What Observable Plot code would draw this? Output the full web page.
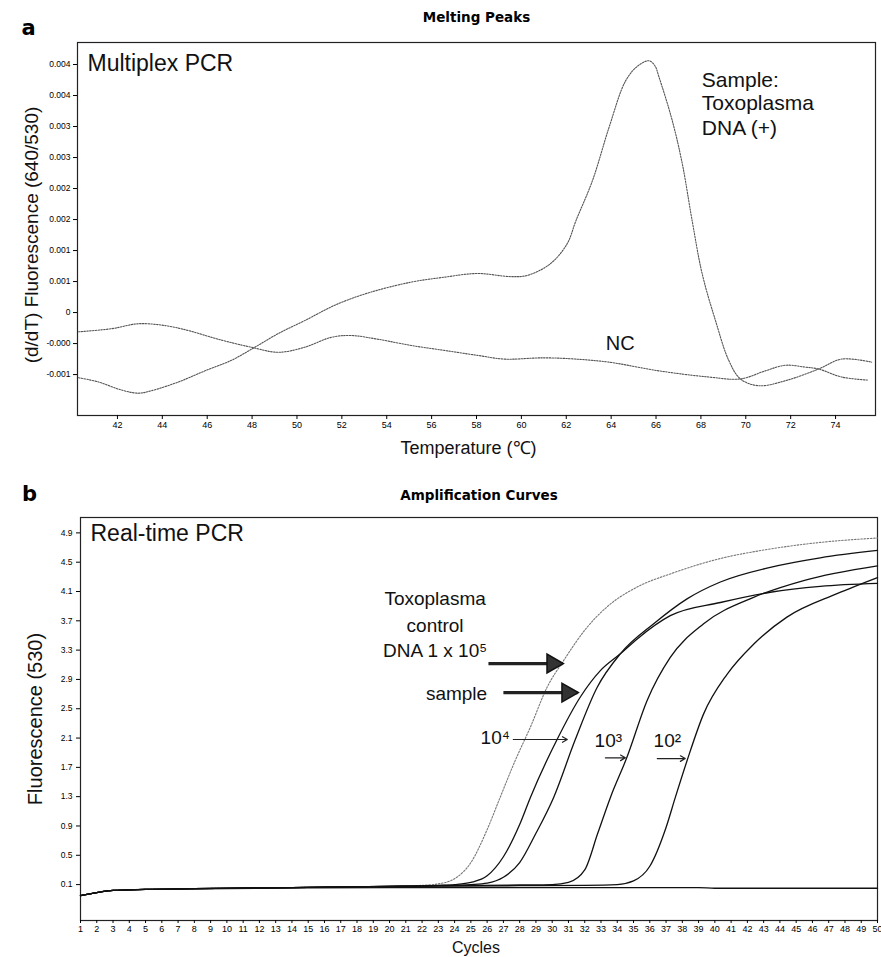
<!DOCTYPE html>
<html><head><meta charset="utf-8">
<script src="https://cdn.jsdelivr.net/npm/d3@7"></script>
<script src="https://cdn.jsdelivr.net/npm/@observablehq/plot@0.6"></script>
<style>body{margin:0;background:#fff} #chart svg{display:block}</style>
</head><body><div id="chart"></div>
<script>
// ---------- Panel a: Melting Peaks ----------
const titleA = "Melting Peaks";
const xTicksA = [42,44,46,48,50,52,54,56,58,60,62,64,66,68,70,72,74];
const yTicksA = [0.004,0.0035,0.003,0.0025,0.002,0.0015,0.001,0.0005,0,-0.0005,-0.001];
const yTickLabelsA = ["0.004","0.004","0.003","0.003","0.002","0.002","0.001","0.001","0","-0.000","-0.001"];

const tempSample = [40.27,41.16,42.19,42.93,43.52,44.71,45.9,47.08,48.12,49.16,50.34,51.82,53.3,55.08,56.56,58.04,59.52,60.27,61.3,62.04,62.43,63.17,63.91,64.65,65.2,65.69,65.95,66.13,66.72,67.17,67.61,68.06,68.65,69.24,69.76,70.58,71.76,73.24,74.28,75.61];
const valSample  = [-0.00105,-0.00112,-0.00125,-0.0013,-0.00126,-0.00112,-0.00094,-0.00077,-0.00056,-0.00034,-0.00013,0.00014,0.00033,0.00049,0.00057,0.00063,0.00058,0.0006,0.00079,0.00111,0.00148,0.00213,0.00299,0.00374,0.00398,0.00406,0.00398,0.0038,0.0031,0.0024,0.00148,0.00062,-0.00013,-0.00077,-0.00107,-0.00118,-0.0011,-0.00091,-0.00075,-0.0008];
const tempNC = [40.27,41.75,42.93,44.12,45.16,46.49,47.97,49.16,50.34,51.52,52.41,53.6,55.08,56.56,58.04,59.23,61.0,62.41,63.91,66.13,68.36,69.76,70.87,71.76,72.65,73.24,74.28,75.47];
const valNC  = [-0.00031,-0.00026,-0.00018,-0.00021,-0.00029,-0.00043,-0.00056,-0.00064,-0.00056,-0.0004,-0.00037,-0.00043,-0.00053,-0.00061,-0.00069,-0.00075,-0.00073,-0.00075,-0.0008,-0.00094,-0.00104,-0.00107,-0.00094,-0.00085,-0.00088,-0.00091,-0.00104,-0.00109];

// annotation texts of panel a (left-aligned block and centred NC label)
const sampleLinesA = ["Sample:","Toxoplasma","DNA (+)"];
const sampleXA = [68.04,68.04,68.04];
const sampleYA = [0.00374,0.00337,0.00298];
const ncLabelA = ["NC"], ncXA = [64.4], ncYA = [-0.0005];

// ---------- Panel b: Amplification Curves ----------
const titleB = "Amplification Curves";
const xTicksB = d3.range(1, 51);
const yTicksB = [0.1,0.5,0.9,1.3,1.7,2.1,2.5,2.9,3.3,3.7,4.1,4.5,4.9];

const cycCtrl = [1,2,3,5,8,12,16,20,22,23,24,25,26,26.8,27.7,28.66,29.68,30.71,32.14,33.37,35.21,37.26,40.34,43.41,46.48,50];
const valCtrl = [-0.05,-0.01,0.02,0.035,0.045,0.055,0.065,0.075,0.09,0.11,0.18,0.4,0.85,1.29,1.78,2.25,2.79,3.16,3.61,3.89,4.16,4.34,4.55,4.68,4.77,4.83];
const cycSample = [1,2,3,5,8,12,16,20,23,24,25,26,27,28,28.66,30.3,31.73,32.96,34.19,35.21,37.26,40.34,43.41,46.48,50];
const valSampleB = [-0.05,-0.01,0.02,0.035,0.045,0.055,0.065,0.075,0.09,0.1,0.13,0.22,0.48,0.92,1.29,2.08,2.66,3.02,3.25,3.45,3.77,3.95,4.09,4.17,4.21];
const cycE4 = [1,2,3,5,8,12,16,20,23,25,26,27,28,29,30.09,31.42,32.76,34.19,36.24,38.29,40.34,43.41,46.48,50];
const valE4 = [-0.05,-0.01,0.02,0.035,0.045,0.055,0.065,0.075,0.085,0.1,0.12,0.2,0.4,0.8,1.29,2.08,2.79,3.25,3.66,4.0,4.23,4.43,4.56,4.66];
const cycE3 = [1,2,3,5,8,12,16,20,24,28,30,31,32,32.8,33.58,34.6,35.83,37.26,39.31,42.38,45.46,50];
const valE3 = [-0.05,-0.01,0.02,0.035,0.045,0.055,0.065,0.075,0.085,0.095,0.1,0.13,0.3,0.8,1.29,1.84,2.61,3.2,3.66,4.02,4.25,4.45];
const cycE2 = [1,2,3,5,8,12,16,20,24,28,32,34,35,36,37,37.57,38.29,39.31,40.75,42.38,44.43,47.51,50];
const valE2 = [-0.05,-0.01,0.02,0.035,0.045,0.055,0.065,0.075,0.08,0.085,0.09,0.1,0.15,0.35,0.88,1.29,1.79,2.43,2.97,3.38,3.75,4.07,4.29];
const cycNCb = [1,2,3,5,10,15,20,25,30,35,39,40,45,50];
const valNCb = [-0.05,-0.01,0.02,0.035,0.045,0.055,0.06,0.06,0.06,0.06,0.06,0.05,0.05,0.05];

// annotation texts of panel b
const ctrlLinesB = ["Toxoplasma","control","DNA 1 x 10⁵"];
const ctrlXB = [22.8,22.8,22.8], ctrlYB = [4.0,3.635,3.294];
const sampleLabelB = ["sample"], sampleXB = [26.0], sampleYB = [2.707];
const dilLabelsB = ["10⁴","10³","10²"], dilXB = [26.5,33.45,37.08], dilYB = [2.107,2.06,2.06];

// thick arrows (control 10^5, sample)
const thickX1 = [26.08,27.0], thickX2 = [30.63,31.55], thickY = [3.117,2.72];
// thin arrows (10^4, 10^3, 10^2)
const thinX1 = [27.61,33.27,36.46], thinX2 = [30.93,34.5,38.18], thinY = [2.08,1.83,1.82];

const font = "'Liberation Sans', Arial, sans-serif";
const rows = (xs, ys, s) => xs.map((x, i) => ({x, y: ys[i], s}));

const melt = [...rows(tempSample, valSample, "sample"), ...rows(tempNC, valNC, "NC")];
const blackCurves = [...rows(cycSample, valSampleB, "sample"), ...rows(cycE4, valE4, "1e4"),
  ...rows(cycE3, valE3, "1e3"), ...rows(cycE2, valE2, "1e2"), ...rows(cycNCb, valNCb, "NC")];
const ctrlCurve = rows(cycCtrl, valCtrl, "1e5");

const plotA = Plot.plot({
  width: 881, height: 460, marginTop: 42, marginBottom: 45, marginLeft: 77, marginRight: 6,
  style: {fontFamily: font, fontSize: "9px", background: "white", color: "black", overflow: "visible"},
  x: {domain: [40.22, 75.78]},
  y: {domain: [-0.00166, 0.004355]},
  marks: [
    Plot.frame({stroke: "#222", strokeWidth: 1.2}),
    Plot.axisX({ticks: xTicksA, tickSize: 4, tickPadding: 2, label: null, fontSize: 9}),
    Plot.axisY({ticks: yTicksA, tickFormat: d => yTickLabelsA[yTicksA.indexOf(d)], tickSize: 4, tickPadding: 3, label: null, fontSize: 8.5}),
    Plot.line(melt, {x: "x", y: "y", z: "s", stroke: "#555", strokeWidth: 1.1, strokeDasharray: "1.5 1.3", curve: "catmull-rom"}),
    Plot.text(sampleLinesA, {x: sampleXA, y: sampleYA, text: d => d, textAnchor: "start", fontSize: 21, fill: "#111"}),
    Plot.text(ncLabelA, {x: ncXA, y: ncYA, text: d => d, textAnchor: "middle", fontSize: 20, fill: "#111"}),
    Plot.text(["Multiplex PCR"], {frameAnchor: "top-left", dx: 10, dy: 21, textAnchor: "start", lineAnchor: "middle", fontSize: 23, fill: "#111"}),
    Plot.text([titleA], {frameAnchor: "top", dy: -25, textAnchor: "middle", lineAnchor: "middle", fontSize: 13.5, fontWeight: 900, fontFamily: "DejaVu Sans"}),
    Plot.text(["a"], {frameAnchor: "top-left", dx: -49, dy: -14, textAnchor: "middle", lineAnchor: "middle", fontSize: 21, fontWeight: "bold", fontFamily: "DejaVu Sans"}),
    Plot.text(["Temperature (℃)"], {frameAnchor: "bottom", dx: -8, dy: 33, textAnchor: "middle", lineAnchor: "middle", fontSize: 18, fill: "#111"}),
    Plot.text(["(d/dT) Fluorescence (640/530)"], {frameAnchor: "left", dx: -46, dy: 6, rotate: -90, textAnchor: "middle", lineAnchor: "middle", fontSize: 19, fill: "#111"})
  ]
});

const plotB = Plot.plot({
  width: 881, height: 497, marginTop: 57, marginBottom: 37, marginLeft: 80, marginRight: 4,
  style: {fontFamily: font, fontSize: "9px", background: "white", color: "black", overflow: "visible"},
  x: {domain: [1, 50]},
  y: {domain: [-0.39, 5.11]},
  marks: [
    Plot.frame({stroke: "#222", strokeWidth: 1.2}),
    Plot.axisX({ticks: xTicksB, tickSize: 3, tickPadding: 2, label: null, fontSize: 9}),
    Plot.axisY({ticks: yTicksB, tickFormat: d3.format(".1f"), tickSize: 4, tickPadding: 4, label: null, fontSize: 8.5}),
    Plot.line(ctrlCurve, {x: "x", y: "y", stroke: "#777", strokeWidth: 1.1, strokeDasharray: "1.6 1.6", curve: "monotone-x"}),
    Plot.line(blackCurves, {x: "x", y: "y", z: "s", stroke: "#111", strokeWidth: 1.3, curve: "monotone-x"}),
    Plot.link(thickX1, {x1: d => d, x2: (d, i) => thickX2[i], y1: (d, i) => thickY[i], y2: (d, i) => thickY[i], stroke: "#222", strokeWidth: 3.2}),
    Plot.dot(thickX2, {x: d => d, y: (d, i) => thickY[i], symbol: "triangle", r: 7, rotate: 90, fill: "#333", stroke: "#111", dx: -10}),
    Plot.arrow(thinX1, {x1: d => d, x2: (d, i) => thinX2[i], y1: (d, i) => thinY[i], y2: (d, i) => thinY[i], stroke: "#222", strokeWidth: 1.2, headLength: 7}),
    Plot.text(ctrlLinesB, {x: ctrlXB, y: ctrlYB, text: d => d, textAnchor: "middle", fontSize: 19, fill: "#111"}),
    Plot.text(sampleLabelB, {x: sampleXB, y: sampleYB, text: d => d, textAnchor: "end", fontSize: 19, fill: "#111"}),
    Plot.text(dilLabelsB, {x: dilXB, y: dilYB, text: d => d, textAnchor: "middle", fontSize: 19, fill: "#111"}),
    Plot.text(["Real-time PCR"], {frameAnchor: "top-left", dx: 10, dy: 16, textAnchor: "start", lineAnchor: "middle", fontSize: 23, fill: "#111"}),
    Plot.text([titleB], {frameAnchor: "top", dy: -22, textAnchor: "middle", lineAnchor: "middle", fontSize: 13.5, fontWeight: 900, fontFamily: "DejaVu Sans"}),
    Plot.text(["b"], {frameAnchor: "top-left", dx: -51, dy: -23, textAnchor: "middle", lineAnchor: "middle", fontSize: 21, fontWeight: "bold", fontFamily: "DejaVu Sans"}),
    Plot.text(["Cycles"], {frameAnchor: "bottom", dx: -3, dy: 27, textAnchor: "middle", lineAnchor: "middle", fontSize: 16, fill: "#111"}),
    Plot.text(["Fluorescence (530)"], {frameAnchor: "left", dx: -45, rotate: -90, textAnchor: "middle", lineAnchor: "middle", fontSize: 20, fill: "#111"})
  ]
});

const root = document.getElementById("chart");
root.appendChild(plotA);
root.appendChild(plotB);
</script>
</body></html>
